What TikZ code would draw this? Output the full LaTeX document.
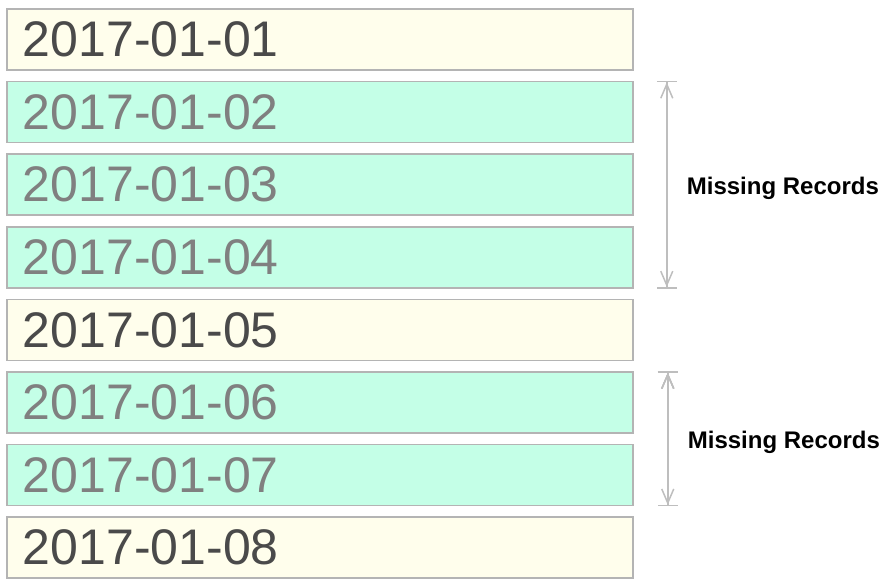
\documentclass[tikz,border=0pt]{standalone}
\usepackage{fontspec}
\setmainfont{Liberation Sans}
\usepackage{tikz}
\usetikzlibrary{arrows.meta, positioning}
\usepackage{xcolor}
\definecolor{dayfill}{RGB}{255,254,236}
\definecolor{gapfill}{RGB}{196,255,231}
\definecolor{rowline}{RGB}{180,180,180}
\definecolor{daytext}{RGB}{74,74,74}
\definecolor{gaptext}{RGB}{128,128,128}
\definecolor{spanline}{RGB}{190,190,190}

\begin{document}
\begin{tikzpicture}[x=1pt,y=-1pt,node distance=10.1pt]
  \tikzstyle{day}=[draw=rowline,line width=1.5pt,text width=594pt,align=left,
    inner xsep=16pt,inner ysep=0pt,minimum height=61pt,font=\fontsize{50}{58}\selectfont]
  \tikzstyle{present}=[day,fill=dayfill,text=daytext]
  \tikzstyle{absent}=[day,fill=gapfill,text=gaptext]
  \tikzstyle{span}=[draw=spanline,line width=1.5pt,
    arrows={Bar[width=20pt] Straight Barb[length=14pt,width=12pt]-Straight Barb[length=14pt,width=12pt] Bar[width=20pt]}]
  \tikzstyle{annot}=[font=\fontsize{24}{29}\selectfont\bfseries,text=black]

  \useasboundingbox (0,0) rectangle (894,588);

  \node[present] (d1) at (320,39.5)   {2017-01-01};
  \node[absent]  (d2) [below=of d1]   {2017-01-02};
  \node[absent]  (d3) [below=of d2]   {2017-01-03};
  \node[absent]  (d4) [below=of d3]   {2017-01-04};
  \node[present] (d5) [below=of d4]   {2017-01-05};
  \node[absent]  (d6) [below=of d5]   {2017-01-06};
  \node[absent]  (d7) [below=of d6]   {2017-01-07};
  \node[present] (d8) [below=of d7]   {2017-01-08};

  \coordinate (m1a) at ([xshift=33pt]d2.north east);
  \coordinate (m1b) at ([xshift=33pt]d4.south east);
  \coordinate (m2a) at ([xshift=34pt]d6.north east);
  \coordinate (m2b) at ([xshift=34pt]d7.south east);

  \path[span]
  (m1a) edge node[annot,right=16pt,yshift=-4pt] {Missing Records} (m1b)
  (m2a) edge node[annot,right=16pt,yshift=-4pt] {Missing Records} (m2b)
  ;
\end{tikzpicture}
\end{document}
